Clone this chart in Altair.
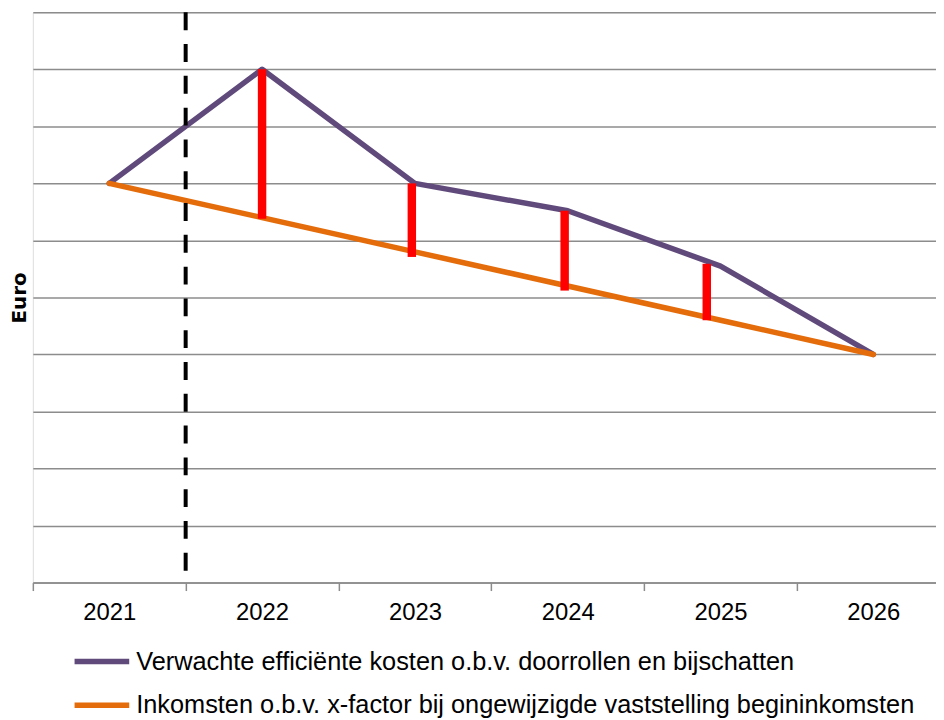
import altair as alt
import pandas as pd

years = [2021, 2022, 2023, 2024, 2025, 2026]
kosten = [7.0, 9.0, 7.0, 6.52, 5.55, 4.0]
inkomsten = [7.0, 6.4, 5.8, 5.2, 4.6, 4.0]
series_names = [
    "Verwachte efficiënte kosten o.b.v. doorrollen en bijschatten",
    "Inkomsten o.b.v. x-factor bij ongewijzigde vaststelling begininkomsten",
]
series_colors = ["#604A7B", "#E46C0A"]
gap_x = [2022.0, 2022.98, 2023.98, 2024.91]
gap_top = [9.0, 7.0, 6.52, 5.59]
gap_bottom = [6.38, 5.71, 5.12, 4.6]
divider_year = [2021.5]
boundaries = [2020.5, 2021.5, 2022.5, 2023.5, 2024.5, 2025.5]
grid_values = [0, 1, 2, 3, 4, 5, 6, 7, 8, 9, 10]

lines_df = pd.DataFrame(
    {"jaar": years * 2,
     "waarde": kosten + inkomsten,
     "reeks": [series_names[0]] * len(years) + [series_names[1]] * len(years)}
)
gap_df = pd.DataFrame({"jaar": gap_x, "top": gap_top, "bottom": gap_bottom})
div_df = pd.DataFrame({"jaar": divider_year})

x_scale = alt.Scale(domain=[2020.5, 2026.41], nice=False, zero=False)
y_scale = alt.Scale(domain=[0, 10], nice=False, zero=True)

x_axis = alt.Axis(
    values=sorted(boundaries + years),
    labelExpr="datum.value % 1 == 0 ? datum.value : ''",
    tickOpacity={"condition": {"test": "datum.value % 1 != 0", "value": 1}, "value": 0},
    grid=False,
    title=None,
    tickSize=8,
    tickColor="#8c8c8c",
    tickWidth=1.5,
    domainColor="#8c8c8c",
    domainWidth=1.5,
    labelFontSize=24,
    labelColor="#000000",
    labelPadding=10,
    labelFont="Liberation Sans",
)
y_axis = alt.Axis(
    values=grid_values,
    labels=False,
    ticks=False,
    domain=False,
    grid=True,
    gridColor="#8c8c8c",
    gridWidth=1.5,
    title="Euro",
    titleFont="DejaVu Sans",
    titleFontSize=20,
    titleFontWeight="bold",
    titleColor="#000000",
    titlePadding=3,
)

lines = alt.Chart(lines_df).mark_line(strokeWidth=5.5, strokeCap="round", strokeJoin="round").encode(
    x=alt.X("jaar:Q", scale=x_scale, axis=x_axis),
    y=alt.Y("waarde:Q", scale=y_scale, axis=y_axis),
    color=alt.Color(
        "reeks:N",
        scale=alt.Scale(domain=series_names, range=series_colors),
        sort=series_names,
        legend=alt.Legend(
            title=None,
            orient="none",
            legendX=39,
            legendY=623,
            direction="vertical",
            symbolType="stroke",
            symbolSize=3025,
            symbolStrokeWidth=5.5,
            labelFontSize=25.5,
            labelFont="Liberation Sans",
            labelColor="#000000",
            labelOffset=4,
            labelLimit=1000,
            rowPadding=-18,
            padding=0,
        ),
    ),
    order=alt.Order("jaar:Q"),
)

gaps = alt.Chart(gap_df).mark_rule(color="#FF0000", strokeWidth=8.5, strokeCap="butt").encode(
    x=alt.X("jaar:Q", scale=x_scale),
    y=alt.Y("top:Q", scale=y_scale),
    y2="bottom:Q",
)

divider = alt.Chart(div_df).mark_rule(color="#000000", strokeWidth=4, strokeDash=[18, 14]).encode(
    x=alt.X("jaar:Q", scale=x_scale),
)

chart = alt.layer(lines, gaps, divider).properties(
    width=909,
    height=574,
    autosize=alt.AutoSizeParams(type="none"),
    padding={"left": 25, "top": 2, "right": 0, "bottom": 136},
).configure_view(stroke=None).configure(font="Liberation Sans", background="white")

chart.save("out.html", embed_options={"renderer": "svg", "actions": False})
